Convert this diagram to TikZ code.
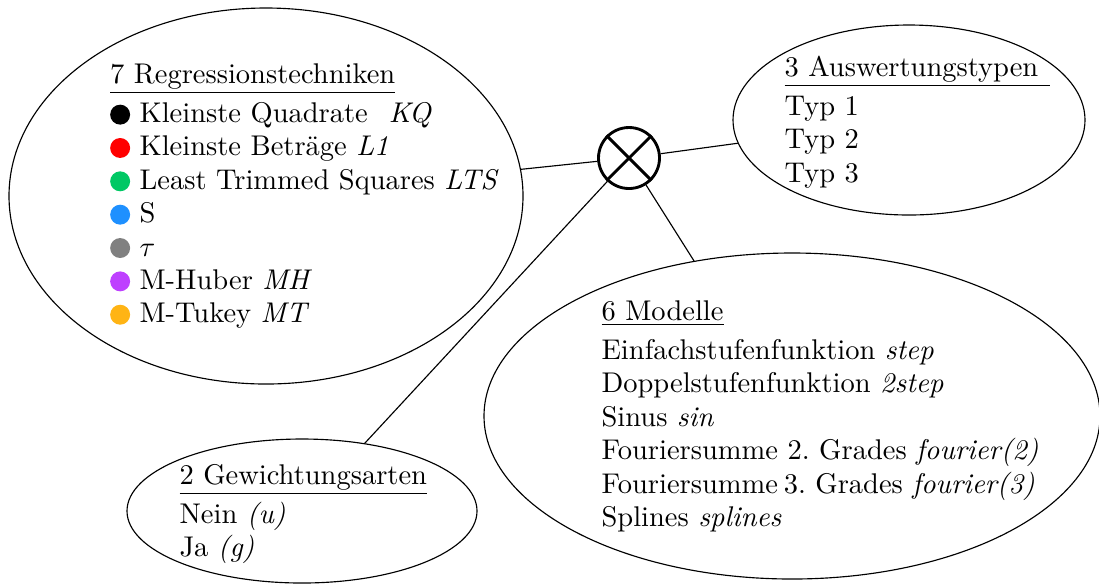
\documentclass[tikz,border=0pt]{standalone}
\usepackage{graphicx}
\usetikzlibrary{shapes.geometric}
\definecolor{cgreen}{RGB}{0,200,100}
\definecolor{cblue}{RGB}{30,144,255}
\definecolor{cgray}{RGB}{128,128,128}
\definecolor{cpurple}{RGB}{190,64,255}
\definecolor{corange}{RGB}{255,180,20}
\newcommand{\pxu}{0.35088pt}
\newcommand{\dotb}[1]{\tikz[baseline=0pt]\fill[#1] (3.5pt,2.8pt) circle (3.5pt);}
\newcommand{\hgap}{2.2pt}
\renewcommand{\arraystretch}{0.975}
\tikzset{
  group/.style={ellipse, draw, inner sep=0pt, line width=0.4pt},
  txt/.style={anchor=base west, inner sep=0pt},
  link/.style={line width=0.4pt},
  hub/.style={circle, draw, line width=1pt, inner sep=0pt, minimum size=61*\pxu}
}
\begin{document}
\begin{tikzpicture}[x=\pxu, y=-\pxu]
\useasboundingbox (0,0) rectangle (1099,585);
% ellipses
\node[group, minimum width=514*\pxu, minimum height=376*\pxu] (L) at (266,196) {};
\node[group, minimum width=352*\pxu, minimum height=190*\pxu] (TR) at (909,120) {};
\node[group, minimum width=616*\pxu, minimum height=326*\pxu] (BR) at (792,416) {};
\node[group, minimum width=350*\pxu, minimum height=144*\pxu] (BL) at (302,511) {};
% hub
\node[hub] (H) at (629,158) {};
\draw[line width=1pt] (H.45) -- (H.225);
\draw[line width=1pt] (H.135) -- (H.315);
% connectors
\draw[link] (H) -- (L);
\draw[link] (H) -- (TR);
\draw[link] (H) -- (BR);
\draw[link] (H) -- (BL);
% texts
\node[txt] (tL) at (109.6,83) {\begin{tabular}[t]{@{}l@{}}
\underline{7 Regressionstechniken}\\[\hgap]
\dotb{black} Kleinste Quadrate\hspace{4pt} \textit{KQ}\\
\dotb{red} Kleinste Beträge \textit{L1}\\
\dotb{cgreen} Least Trimmed Squares \textit{LTS}\\
\dotb{cblue} S\\
\dotb{cgray} $\tau$\\
\dotb{cpurple} M-Huber \textit{MH}\\
\dotb{corange} M-Tukey \textit{MT}
\end{tabular}};
\node[txt] (tTR) at (784,76) {\begin{tabular}[t]{@{}l@{}}
\underline{3 Auswertungstypen\hspace{4pt}}\\[\hgap]
Typ 1\\
Typ 2\\
Typ 3
\end{tabular}};
\node[txt] (tBR) at (601,320) {\begin{tabular}[t]{@{}l@{}}
\underline{6 Modelle}\\[\hgap]
Einfachstufenfunktion \textit{step}\\
Doppelstufenfunktion \textit{2step}\\
Sinus \textit{sin}\\
Fouriersumme 2.\ Grades \textit{fourier(2)}\\
Fouriersumme\hspace{2pt}3.\ Grades \textit{fourier(3)}\\
Splines \textit{splines}
\end{tabular}};
\node[txt] (tBL) at (179,484) {\begin{tabular}[t]{@{}l@{}}
\underline{2 Gewichtungsarten}\\[\hgap]
Nein \textit{(u)}\\
Ja \textit{(g)}
\end{tabular}};
\end{tikzpicture}
\end{document}
